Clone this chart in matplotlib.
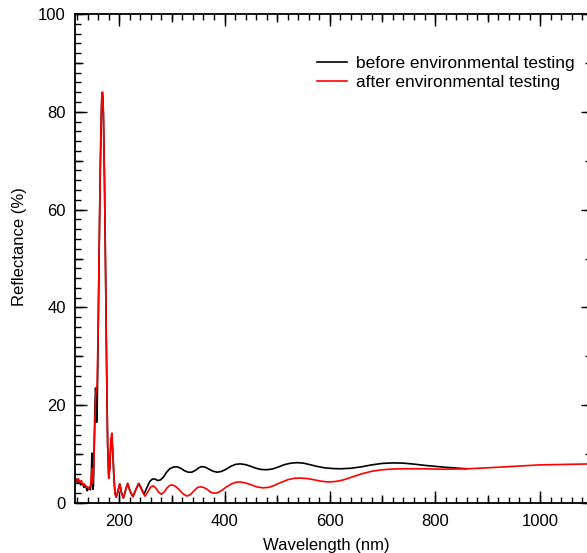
import matplotlib
matplotlib.use("Agg")
import matplotlib.pyplot as plt
from matplotlib.ticker import MultipleLocator, NullFormatter

plt.rcParams['font.family'] = ['Liberation Sans', 'DejaVu Sans']
plt.rcParams['font.size'] = 12

# ---- data ----
wl_before = [116, 118, 121, 124, 127, 130, 133, 136, 139, 142, 145, 147, 148, 149, 150, 151,
             152, 153, 154, 155, 156, 157, 158, 159, 160, 162, 164, 166, 167, 168, 169, 170,
             172, 174, 176, 178, 180, 182, 184, 186, 188, 190, 192, 194, 197, 201, 204, 208,
             212, 216, 221, 226, 231, 237, 242, 247, 252, 258, 263, 268, 273, 278, 284, 290,
             296, 303, 310, 317, 324, 331, 338, 345, 351, 357, 364, 371, 378, 386, 394, 403,
             412, 421, 430, 440, 450, 460, 470, 480, 491, 502, 514, 526, 538, 550, 562, 575,
             590, 605, 620, 640, 660, 680, 700, 720, 740, 760, 780, 800, 820, 840, 860]
r_before = [4.5, 4.9, 4.2, 4.6, 3.7, 4.1, 3.2, 3.6, 2.5, 3.1, 2.7, 4.5, 10.2, 5.5, 2.8, 3.5,
            9.0, 15.0, 20.0, 23.5, 22.0, 16.5, 19.0, 26.0, 35.0, 52.0, 68.0, 79.0, 83.0, 84.0, 83.0, 79.0,
            66.0, 48.0, 28.0, 12.0, 5.5, 7.0, 12.0, 13.5, 10.0, 5.0, 2.0, 1.2, 2.2, 3.9, 2.2, 1.0,
            2.6, 4.0, 2.3, 1.3, 2.6, 4.0, 3.0, 1.8, 3.0, 4.4, 4.9, 4.9, 4.6, 4.7, 5.3, 6.3,
            7.0, 7.35, 7.4, 7.1, 6.6, 6.3, 6.3, 6.7, 7.2, 7.45, 7.3, 6.9, 6.5, 6.3, 6.45, 6.9,
            7.5, 7.9, 8.0, 7.85, 7.5, 7.1, 6.85, 6.8, 6.95, 7.35, 7.85, 8.15, 8.25, 8.15, 7.85, 7.5,
            7.2, 7.05, 7.0, 7.1, 7.4, 7.8, 8.1, 8.2, 8.15, 7.95, 7.7, 7.5, 7.3, 7.15, 7.0]

wl_after = [116, 119, 122, 125, 128, 131, 134, 137, 140, 143, 146, 148, 150, 152, 154, 155,
            156, 158, 160, 162, 164, 166, 167, 168, 169, 170, 172, 174, 176, 178, 180, 182,
            184, 186, 188, 190, 192, 194, 197, 201, 204, 208, 212, 216, 221, 226, 231, 237,
            243, 249, 255, 260, 265, 270, 275, 280, 285, 291, 296, 301, 307, 314, 321, 329,
            336, 343, 349, 354, 360, 367, 374, 380, 387, 395, 404, 413, 422, 430, 440, 450,
            461, 473, 484, 495, 507, 520, 532, 544, 557, 570, 584, 597, 611, 625, 642, 660,
            680, 700, 720, 740, 780, 820, 861, 900, 950, 1000, 1050, 1100]
r_after = [5.0, 4.4, 5.0, 4.2, 4.6, 3.7, 3.9, 3.2, 3.3, 2.9, 3.8, 7.0, 4.0, 9.0, 17.0, 21.0,
           23.0, 24.0, 36.0, 53.0, 69.0, 80.0, 83.5, 84.0, 83.0, 79.5, 66.0, 48.0, 28.0, 12.0, 5.0, 7.0,
           13.0, 14.3, 10.5, 5.0, 2.0, 1.2, 2.2, 3.9, 2.2, 1.0, 2.6, 4.0, 2.3, 1.3, 2.6, 4.0,
           2.6, 1.4, 2.4, 3.3, 3.5, 3.0, 2.2, 1.8, 2.2, 3.1, 3.6, 3.7, 3.4, 2.7, 1.9, 1.4,
           1.8, 2.6, 3.2, 3.3, 3.2, 2.8, 2.2, 2.0, 2.1, 2.6, 3.3, 3.9, 4.25, 4.3, 4.1, 3.75,
           3.3, 3.1, 3.2, 3.6, 4.2, 4.75, 5.05, 5.1, 5.0, 4.75, 4.45, 4.3, 4.4, 4.7, 5.3, 5.95,
           6.5, 6.8, 6.95, 7.0, 7.0, 6.9, 7.0, 7.2, 7.5, 7.8, 7.9, 8.0]

labels = ["before environmental testing", "after environmental testing"]
x_label = "Wavelength (nm)"
y_label = "Reflectance (%)"

# ---- figure ----
W, H = 587, 553
fig = plt.figure(figsize=(W / 100, H / 100), dpi=100)
left, right, top, bottom = 75, 593, 14, 503
pos = [left / W, 1 - bottom / H, (right - left) / W, (bottom - top) / H]
ax = fig.add_axes(pos)

ax.plot(wl_before, r_before, color="black", lw=1.2, label=labels[0])
ax.plot(wl_after, r_after, color="#ff0000", lw=1.2, label=labels[1])

ax.set_xlim(116, 1100)
ax.set_ylim(0, 100)
ax.xaxis.set_major_locator(MultipleLocator(200))
ax.xaxis.set_minor_locator(MultipleLocator(20))
ax.yaxis.set_major_locator(MultipleLocator(20))
ax.yaxis.set_minor_locator(MultipleLocator(2))
ax.tick_params(which="both", direction="in", top=True, right=True, width=1.0, colors="black")
ax.tick_params(which="major", length=8.6)
ax.tick_params(which="minor", length=4.0)
ax.tick_params(axis="x", which="major", pad=8, labelsize=12)
ax.tick_params(axis="y", which="major", pad=6.5, labelsize=12)
for s in ax.spines.values():
    s.set_linewidth(1.3)
    s.set_color("black")

# medium ticks (every 100 nm and every 10 %)
ax2 = fig.add_axes(pos, frameon=False)
ax2.set_xlim(116, 1100)
ax2.set_ylim(0, 100)
ax2.xaxis.set_major_locator(MultipleLocator(100))
ax2.yaxis.set_major_locator(MultipleLocator(10))
ax2.xaxis.set_major_formatter(NullFormatter())
ax2.yaxis.set_major_formatter(NullFormatter())
ax2.tick_params(which="major", direction="in", top=True, right=True, length=5.8, width=1.0)
ax2.patch.set_visible(False)

ax.set_xlabel(x_label, fontsize=12)
ax.set_ylabel(y_label, fontsize=12)
ax.xaxis.set_label_coords(0.485, -0.072)
ax.yaxis.set_label_coords(-0.093, 0.525)

ax.legend(loc="upper left", bbox_to_anchor=(0.467, 0.914), frameon=False,
          borderpad=0, borderaxespad=0, handlelength=1.75, handletextpad=0.52,
          labelspacing=0.25, fontsize=12.4)

fig.savefig("out.png", dpi=100)
